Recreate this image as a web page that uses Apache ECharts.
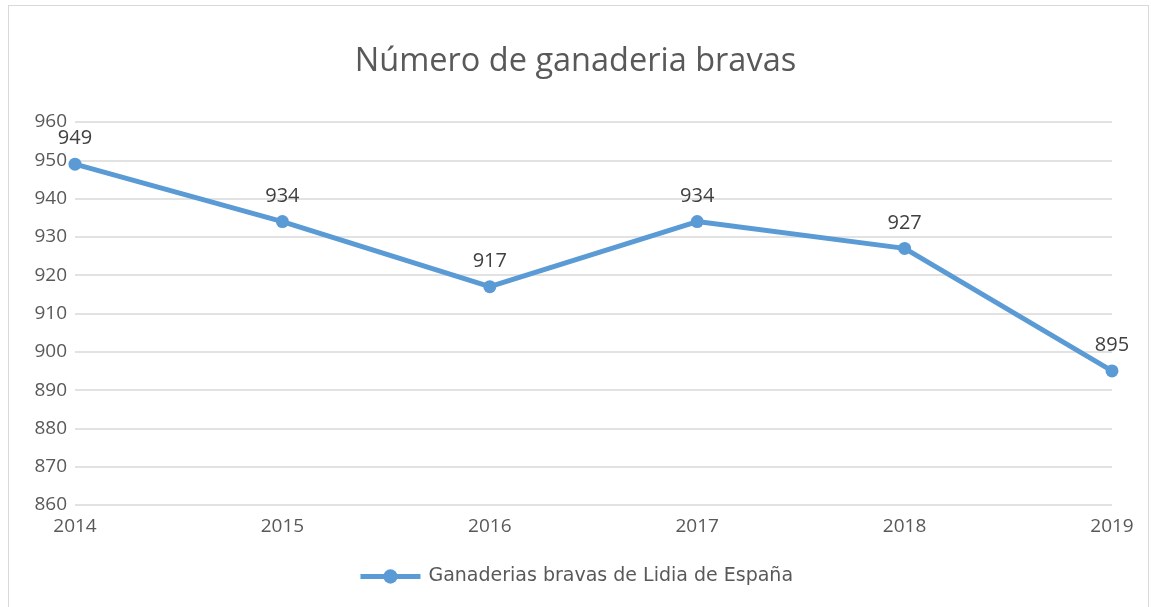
<!DOCTYPE html>
<html>
<head>
<meta charset="utf-8">
<script src="https://cdn.jsdelivr.net/npm/echarts@6/dist/echarts.min.js"></script>
<style>
  html, body { margin: 0; padding: 0; background: #fff; }
  #chart { position: absolute; left: 0; top: 0; width: 1151px; height: 607px; }
  #frame { position: absolute; left: 8px; top: 5px; width: 1139px; height: 620px; border: 1px solid #d9d9d9; }
</style>
</head>
<body>
<div id="frame"></div>
<div id="chart"></div>
<script>
const years = ['2014', '2015', '2016', '2017', '2018', '2019'];
const ganaderias = [949, 934, 917, 934, 927, 895];
const seriesName = 'Ganaderias bravas de Lidia de España';

let myChart = echarts.init(document.getElementById('chart'));
myChart.setOption({
  title: {
    text: 'Número de ganaderia bravas',
    left: 'center',
    top: 40,
    textStyle: {
      fontFamily: 'Open Sans',
      fontSize: 32.5,
      fontWeight: 'normal',
      color: '#595959'
    }
  },
  legend: {
    bottom: 16,
    left: 'center',
    itemWidth: 60,
    itemHeight: 18,
    itemGap: 8,
    lineStyle: { width: 5 },
    textStyle: {
      fontFamily: 'DejaVu Sans',
      fontSize: 19,
      color: '#595959',
      padding: [0, 0, 0, 3]
    },
    data: [seriesName]
  },
  grid: {
    left: 75,
    right: 39,
    top: 122,
    bottom: 102
  },
  xAxis: {
    type: 'category',
    boundaryGap: false,
    data: years,
    axisLine: { show: false },
    axisTick: { show: false },
    axisLabel: {
      fontFamily: 'Open Sans',
      fontSize: 19,
      color: '#595959',
      margin: 12
    }
  },
  yAxis: {
    type: 'value',
    min: 860,
    max: 960,
    interval: 10,
    axisLine: { show: false },
    axisTick: { show: false },
    axisLabel: {
      fontFamily: 'Open Sans',
      fontSize: 19,
      color: '#595959',
      margin: 8
    },
    splitLine: {
      lineStyle: { color: '#d9d9d9', width: 1.5 }
    }
  },
  series: [
    {
      name: seriesName,
      type: 'line',
      data: ganaderias,
      symbol: 'circle',
      symbolSize: 13,
      color: '#5b9bd5',
      lineStyle: { width: 5, color: '#5b9bd5' },
      label: {
        show: true,
        position: 'top',
        distance: 9,
        fontFamily: 'Open Sans',
        fontSize: 20,
        color: '#404040'
      }
    }
  ]
});
</script>
</body>
</html>
